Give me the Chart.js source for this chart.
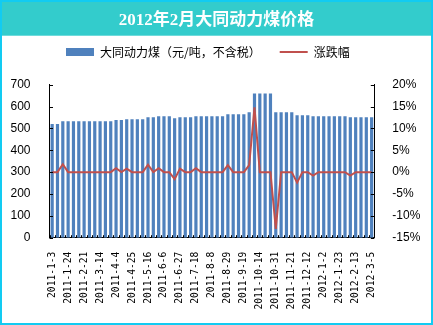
<!DOCTYPE html>
<html><head><meta charset="utf-8">
<script src="https://cdn.jsdelivr.net/npm/chart.js@4"></script>
<style>html,body{margin:0;padding:0;background:#fff;}canvas{display:block;}</style>
</head><body>
<canvas id="c" width="433" height="325" style="width:433px;height:325px"></canvas>
<script>
const categories = [
  '2011-1-3','2011-1-10','2011-1-17','2011-1-24','2011-1-31','2011-2-14','2011-2-21','2011-2-28','2011-3-7','2011-3-14',
  '2011-3-21','2011-3-28','2011-4-4','2011-4-11','2011-4-18','2011-4-25','2011-5-2','2011-5-9','2011-5-16','2011-5-23',
  '2011-5-30','2011-6-6','2011-6-13','2011-6-20','2011-6-27','2011-7-4','2011-7-11','2011-7-18','2011-7-25','2011-8-1',
  '2011-8-8','2011-8-15','2011-8-22','2011-8-29','2011-9-5','2011-9-12','2011-9-19','2011-9-26','2011-10-8','2011-10-14',
  '2011-10-17','2011-10-24','2011-10-31','2011-11-7','2011-11-14','2011-11-21','2011-11-28','2011-12-5','2011-12-12','2011-12-19',
  '2011-12-26','2012-1-2','2012-1-9','2012-1-16','2012-1-23','2012-1-30','2012-2-6','2012-2-13','2012-2-20','2012-2-27',
  '2012-3-5'
];
const prices = [
  520,520,533,533,533,533,533,533,533,533,
  533,533,538,538,542,542,542,542,551,551,
  556,556,556,547,551,551,551,556,556,556,
  556,556,556,565,565,565,565,574,660,660,
  660,660,574,574,574,574,560,560,560,556,
  556,556,556,556,556,556,551,551,551,551,
  551
];
const changes = [
  0,0,1.8,0,0,0,0,0,0,0,
  0,0,0.9,0,0.8,0,0,0,1.7,0,
  0.9,0,0,-1.6,0.8,0,0,0.9,0,0,
  0,0,0,1.6,0,0,0,1.6,14.8,0,
  0,0,-13.0,0,0,0,-2.4,0,0,-0.8,
  0,0,0,0,0,0,-0.8,0,0,0,
  0
];
const leftTicks = [0,100,200,300,400,500,600,700];
const rightTicks = [-15,-10,-5,0,5,10,15,20];
const titleText = '2012年2月大同动力煤价格';
const barLabel = '大同动力煤（元/吨，不含税）';
const lineLabel = '涨跌幅';

const frame = {
  id: 'frame',
  beforeDraw(chart) {
    const ctx = chart.ctx;
    ctx.save();
    ctx.fillStyle = '#ffffff';
    ctx.fillRect(0, 0, chart.width, chart.height);
    ctx.fillStyle = '#33CCCC';
    ctx.fillRect(0, 0, chart.width, 35.7);
    ctx.restore();
  },
  beforeLayout(chart) {
    const lg = chart.legend;
    if (lg && !lg._patched) {
      const orig = lg.fit;
      lg.fit = function() { orig.call(this); this.height = 48.7; };
      lg._patched = true;
    }
  },
  afterLayout(chart) {
    const lg = chart.legend;
    if (lg) { lg.left -= 8.65; lg.right -= 8.65; lg.top -= 9; }
  },
  afterDraw(chart) {
    const ctx = chart.ctx;
    const a = chart.chartArea;
    const x = chart.scales.x, y = chart.scales.y, y1 = chart.scales.y1;
    ctx.save();
    ctx.strokeStyle = '#000';
    ctx.lineWidth = 1;
    ctx.beginPath();
    y.ticks.forEach(t => {
      const py = Math.round(y.getPixelForValue(t.value)) + 0.5;
      ctx.moveTo(a.left, py); ctx.lineTo(a.left + 3.5, py);
    });
    y1.ticks.forEach(t => {
      const py = Math.round(y1.getPixelForValue(t.value)) + 0.5;
      ctx.moveTo(a.right - 3.5, py); ctx.lineTo(a.right, py);
    });
    const half = (x.getPixelForValue(1) - x.getPixelForValue(0)) / 2;
    for (let i = 0; i <= categories.length; i++) {
      const px = Math.round(x.getPixelForValue(i) - half) + 0.5;
      ctx.moveTo(px, a.bottom); ctx.lineTo(px, a.bottom - 2.5);
    }
    ctx.stroke();
    ctx.strokeStyle = '#12CBF2';
    ctx.lineWidth = 2;
    ctx.strokeRect(1, 1, chart.width - 2, chart.height - 2);
    ctx.restore();
  }
};

new Chart(document.getElementById('c'), {
  type: 'bar',
  data: {
    labels: categories,
    datasets: [
      {
        type: 'bar', label: barLabel, data: prices, yAxisID: 'y',
        backgroundColor: '#4F81BD', borderWidth: 0, pointStyle: 'rect',
        barPercentage: 0.6, categoryPercentage: 1.0, order: 2
      },
      {
        type: 'line', label: lineLabel, data: changes, yAxisID: 'y1',
        borderColor: '#C0504D', backgroundColor: '#C0504D', borderWidth: 2,
        pointRadius: 0, pointStyle: 'line', tension: 0, order: 1
      }
    ]
  },
  options: {
    responsive: false,
    devicePixelRatio: 1,
    animation: false,
    layout: { padding: 0 },
    plugins: {
      title: {
        display: true, text: titleText, color: '#ffffff',
        font: { family: '"Liberation Serif","Noto Sans CJK SC"', size: 17, weight: 'bold' },
        padding: { top: 10, bottom: 5.6 }
      },
      legend: {
        display: true,
        labels: {
          usePointStyle: true, pointStyleWidth: 28, boxHeight: 8, padding: 19,
          color: '#000', font: { family: '"Noto Sans CJK SC"', size: 12 },
          sort: (a, b) => a.datasetIndex - b.datasetIndex
        }
      },
      tooltip: { enabled: false }
    },
    scales: {
      x: {
        type: 'category',
        offset: true,
        grid: { display: false, offset: true },
        border: { display: true, color: '#000', width: 1 },
        ticks: {
          autoSkip: false, minRotation: 90, maxRotation: 90, padding: 6,
          color: '#000', font: { family: '"DejaVu Sans Mono"', size: 9.6 },
          callback: function(v, i) { return i % 3 === 0 ? this.getLabelForValue(v) : ''; }
        },
        afterFit(s) { s.height = 87.3; }
      },
      y: {
        position: 'left', min: 0, max: 700,
        grid: { display: false },
        border: { display: true, color: '#000', width: 1 },
        ticks: { padding: 11, color: '#000', font: { family: '"Liberation Sans"', size: 12 } },
        afterBuildTicks(s) { s.ticks = leftTicks.map(v => ({ value: v })); },
        afterFit(s) { s.width = 49.5; }
      },
      y1: {
        position: 'right', min: -15, max: 20,
        grid: { display: false },
        border: { display: true, color: '#000', width: 1 },
        ticks: { padding: 10, color: '#000', font: { family: '"Liberation Sans"', size: 12 },
          callback: v => v + '%' },
        afterBuildTicks(s) { s.ticks = rightTicks.map(v => ({ value: v })); },
        afterFit(s) { s.width = 58.7; }
      }
    }
  },
  plugins: [frame]
});
</script>
</body></html>
